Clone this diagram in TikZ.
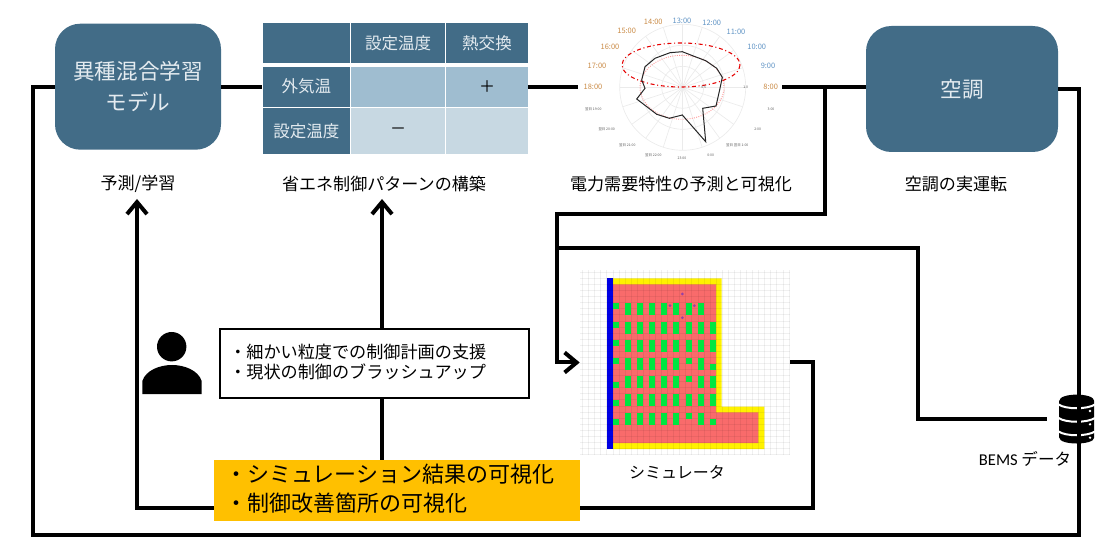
\documentclass[tikz,border=0pt]{standalone}
\usepackage{fontspec}
\setmainfont{Noto Sans CJK JP}
\newfontfamily\latinfont{Carlito}
\usepackage{xcolor}
\usepackage{tikz}
\usetikzlibrary{positioning,arrows.meta}

\definecolor{boxblue}{HTML}{426C87}
\definecolor{cellmid}{HTML}{9FBDD0}
\definecolor{celllight}{HTML}{C7D8E2}
\definecolor{boxtext}{HTML}{E4EBF0}
\definecolor{hourblue}{HTML}{5F93C4}
\definecolor{hourorange}{HTML}{C98A45}
\definecolor{seatgreen}{HTML}{00E640}
\definecolor{roomred}{HTML}{F96B6B}

\tikzset{
  flowline/.style={line width=3pt,black},
  uparrow/.style={flowline,-{Straight Barb[length=9pt,width=15pt,line width=3pt]}},
  bigbox/.style={draw=none,fill=boxblue,rounded corners=19pt,text=boxtext,align=center,font=\fontsize{16.2}{23}\selectfont},
  caption/.style={inner sep=0pt,font=\fontsize{12.8}{15}\selectfont},
  headcell/.style={fill=boxblue,text=boxtext,inner sep=0pt,font=\fontsize{12.4}{15}\selectfont},
  midcell/.style={fill=cellmid,inner sep=0pt,font=\fontsize{12}{15}\selectfont},
  lightcell/.style={fill=celllight,inner sep=0pt,font=\fontsize{12}{15}\selectfont},
  hourlabel/.style={inner sep=0pt,font=\fontsize{5.6}{7}\selectfont},
  ticklabel/.style={inner sep=0pt,text=black!65,font=\fontsize{2.6}{3}\selectfont},
  seat/.style={fill=seatgreen},
  gridline/.style={black,opacity=0.06,line width=0.3pt},
}

\begin{document}
\begin{tikzpicture}[x=0.75pt,y=0.75pt,yscale=-1,xscale=1]
\useasboundingbox (0,0) rectangle (1112,548);

% Boxes
\node [bigbox,minimum width=166*0.75pt,minimum height=126*0.75pt] (modelbox) at (138,86.7) {異種混合学習\\モデル};
\node [bigbox,minimum width=192*0.75pt,minimum height=126*0.75pt] (airbox) at (962,89) {空調};

% Table
\node [headcell,minimum width=87.3*0.75pt,minimum height=40*0.75pt] (cellcorner) at (306.4,43.3) {};
\node [headcell,minimum width=94.3*0.75pt,minimum height=40*0.75pt] (cellsetpoint) at (398.2,43.3) {設定温度};
\node [headcell,minimum width=81.4*0.75pt,minimum height=40*0.75pt] (cellexchange) at (487,43.3) {熱交換};
\node [headcell,minimum width=87.3*0.75pt,minimum height=40*0.75pt] (cellout) at (306.4,86.7) {外気温};
\node [midcell,minimum width=94.3*0.75pt,minimum height=40*0.75pt] (celloutset) at (398.2,86.7) {};
\node [midcell,minimum width=81.4*0.75pt,minimum height=40*0.75pt] (celloutex) at (487,86.7) {＋};
\node [headcell,minimum width=87.3*0.75pt,minimum height=46.6*0.75pt] (cellset) at (306.4,131) {設定温度};
\node [lightcell,minimum width=94.3*0.75pt,minimum height=46.6*0.75pt] (cellsetset) at (398.2,131) {－};
\node [lightcell,minimum width=81.4*0.75pt,minimum height=46.6*0.75pt] (cellsetex) at (487,131) {};

% Polar chart
\node [minimum width=204*0.75pt,minimum height=150*0.75pt,inner sep=0pt] (polar) at (680,86.7) {};
\foreach \rr in {21,42,63} {
  \draw [black!8,line width=0.5pt] (682.7,87.3) circle [radius=\rr];
}
\foreach \aa in {0,18,...,342} {
  \draw [black!8,line width=0.5pt] (682.7,87.3) -- ++(\aa:63);
}
\draw [red!40,line width=0.7pt,densely dotted] (682,87.3) ellipse [x radius=42,y radius=32];
\draw [red!90!black,line width=0.8pt,dash dot] (681,65) ellipse [x radius=59,y radius=22];
\draw [black!85,line width=0.75pt] (682.3,51.7) -- (670,52.7) -- (655,58.3) -- (645,66.7) -- (641.7,80) -- (645,88.3) -- (636.7,99) -- (656.7,114.3) -- (669.3,118.3) -- (682.3,115) -- (705.7,141.7) -- (702.7,108.3) -- (716,106) -- (720,88.3) -- (722.3,77.3) -- (716.7,68.3) -- (705.7,60.7) -- (693.3,56) -- cycle;

\foreach \hx/\hy/\hname in {682/20.7/13:00,711.7/23.3/12:00,736/32.3/11:00,756.7/46.7/10:00,768/66.3/9:00} {
  \node [hourlabel,text=hourblue] at (\hx,\hy) {\hname};
}
\foreach \hx/\hy/\hname in {770.7/87.3/8:00,653.3/22.3/14:00,626.7/31.3/15:00,610/47.3/16:00,597/66.3/17:00,593/87.3/18:00} {
  \node [hourlabel,text=hourorange] at (\hx,\hy) {\hname};
}
\foreach \hx/\hy/\hname in {593.3/109.7/翌日 19:00,606.7/129.3/翌日 20:00,627.3/145/翌日 21:00,653.3/155/翌日 22:00,682/158.3/23:00,710.7/155/0:00,737.3/145/翌日 翌日 1:00,757.7/129.3/2:00,771/109.7/3:00,703.7/87.7/0.5,745.7/87.7/1.0} {
  \node [ticklabel] at (\hx,\hy) {\hname};
}

% Simulator
\node [minimum width=210*0.75pt,minimum height=185*0.75pt,inner sep=0pt] (sim) at (685,362.5) {};
\fill [yellow] (612.7,278.3) -- (721.7,278.3) -- (721.7,406.7) -- (764.3,406.7) -- (764.3,449) -- (612.7,449) -- cycle;
\fill [roomred] (612.7,284.3) -- (716,284.3) -- (716,412.3) -- (758.3,412.3) -- (758.3,443) -- (612.7,443) -- cycle;
\fill [blue!90!black] (606.7,278.3) rectangle (612.7,449);
\foreach \ii in {0,...,34} {
  \draw [gridline] ({582.4+6.07*\ii},270) -- ({582.4+6.07*\ii},455);
}
\foreach \jj in {0,...,30} {
  \draw [gridline] (580,{272.2+6.07*\jj}) -- (790,{272.2+6.07*\jj});
}
\foreach \gx/\gy in {682.3/294,670/305.7,694.3/305.7,682.3/317.7} {
  \fill [blue!40!roomred] (\gx,\gy) circle [radius=1.5];
}
% Seats
\foreach \gy in {303.3,321.7,340,358.3,376,394,412.7} {
  \foreach \gx in {625,637,649,661.3,673.3,697.7} {
    \fill [seat] (\gx,\gy) rectangle ++(6,12);
  }
}
\foreach \gy in {303.3,321.7,340,394} {
  \fill [seat] (685.7,\gy) rectangle ++(6,12);
}
\foreach \gy in {358.3,376,412.7} {
  \fill [seat] (685.7,\gy) rectangle ++(6,6);
}
\foreach \gy in {321.7,340,376,394} {
  \fill [seat] (710,\gy) rectangle ++(6,12);
}
\foreach \gy in {364.3,418.7} {
  \fill [seat] (710,\gy) rectangle ++(6,6);
}
\foreach \gy in {303.3,321.7,340,358.3,382,400,418.7} {
  \fill [seat] (612.7,\gy) rectangle ++(6,6);
}

% Database icon
\node [minimum width=35*0.75pt,minimum height=48*0.75pt,inner sep=0pt] (database) at (1076.7,419.2) {};
\fill [black] (1059.2,401) .. controls (1059.2,392.5) and (1094.2,392.5) .. (1094.2,401) -- (1094.2,437.5) .. controls (1094.2,445.5) and (1059.2,445.5) .. (1059.2,437.5) -- cycle;
\foreach \by in {404.5,418,431.5} {
  \draw [white,line width=1.5pt] (1058.5,\by) .. controls (1066,{\by+5}) and (1087,{\by+5}) .. (1095,\by);
}
\foreach \by in {411,424.3,437.7} {
  \fill [white] (1090,\by) circle [radius=1.3];
}

% Person icon
\fill [black] (171.7,346.7) circle [radius=14.7];
\fill [black] (142.3,394) -- (142.3,381) .. controls (146,370) and (160,365) .. (172,365) .. controls (184,365) and (198,370) .. (201.7,381) -- (201.7,394) -- cycle;

% Connectors
\coordinate (tap) at (825,87);
\coordinate (simbus) at (557,214);
\coordinate (busbranch) at (557,248);
\coordinate (dbcorner) at (918,419.2);
\coordinate (loopleft) at (33,535);
\coordinate (loopright) at (1079,535);
\coordinate (lefttip) at (137,199);
\coordinate (midtip) at (382,199);
\coordinate (feedleft) at (137,508);
\coordinate (feedright) at (813,508);

\draw [flowline] (modelbox.east) -- (cellout.west);
\draw [flowline] (celloutex.east) -- (polar.west);
\draw [flowline] (polar.east) -- (airbox.west |- polar.east);
\draw [flowline] (airbox.east) -- (loopright |- airbox.east) -- (loopright) -- (loopleft) |- (modelbox.west);
\draw [uparrow] (tap) |- (simbus) |- (sim.west);
\draw [flowline] (busbranch) -| (dbcorner) -- (database.west) [shorten >=9pt];
\draw [flowline] (sim.east) -| (feedright) -- (feedright -| 580,0);

% Text boxes
\node [draw,line width=2.2pt,fill=white,minimum width=309*0.75pt,minimum height=69*0.75pt,inner sep=0pt] (supportbox) at (374.5,363.5) {};
\node [fill={rgb,255:red,255;green,192;blue,0},minimum width=366*0.75pt,minimum height=61*0.75pt,inner sep=0pt] (visualbox) at (397,490.5) {};
\draw [uparrow] (visualbox.west |- feedleft) -- (feedleft) -- (lefttip);
\draw [flowline] (visualbox.north -| midtip) -- (supportbox.south -| midtip);
\draw [uparrow] (supportbox.north -| midtip) -- (midtip);

% Text Node
\node [inner sep=0pt,anchor=west,font=\fontsize{12.85}{15}\selectfont] (supportone) at (229,352) {・細かい粒度での制御計画の支援};
\node [inner sep=0pt,anchor=west,font=\fontsize{12.85}{15}\selectfont] (supporttwo) at (229,372) {・現状の制御のブラッシュアップ};
\node [inner sep=0pt,anchor=west,font=\fontsize{16.5}{19}\selectfont] (visualone) at (225,474.5) {・シミュレーション結果の可視化};
\node [inner sep=0pt,anchor=west,font=\fontsize{16.5}{19}\selectfont] (visualtwo) at (225,503) {・制御改善箇所の可視化};
\node [caption] (predictlabel) at (138,184) {予測/学習};
\node [caption] (patternlabel) at (384,184) {省エネ制御パターンの構築};
\node [caption] (polarlabel) at (681,184) {電力需要特性の予測と可視化};
\node [caption] (airlabel) at (956,184) {空調の実運転};
\node [caption,font=\fontsize{12}{15}\selectfont] (simlabel) at (677,472) {シミュレータ};
\node [caption,font=\fontsize{12.4}{15}\selectfont] (bemslabel) at (1025,459) {{\latinfont BEMS} データ};
\end{tikzpicture}
\end{document}
